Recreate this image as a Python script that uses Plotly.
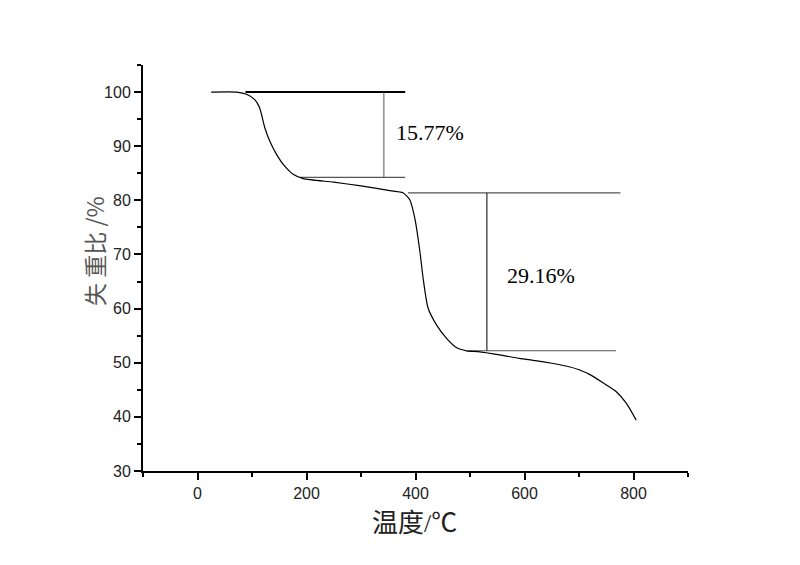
import plotly.graph_objects as go

# TGA curve (temperature °C, remaining weight %)
temperature = [25, 72, 90, 105, 114, 123.5, 132.7, 145, 160, 175.5, 194, 250, 300, 353, 377,
               389.5, 398.7, 408, 414, 423, 438.5, 457, 475, 493.6, 515, 530, 560, 591, 620,
               650, 680, 700, 720, 744, 769, 787, 805]
weight = [100, 100, 99.6, 98.6, 97.1, 93.4, 90.9, 88.5, 86.3, 84.8, 84.0, 83.35, 82.66, 81.8, 81.4,
          80.1, 76.7, 70.6, 65.6, 60.1, 57.0, 54.5, 52.8, 52.2, 52.05, 51.85, 51.35, 50.8, 50.4,
          49.9, 49.3, 48.7, 47.8, 46.3, 44.6, 42.5, 39.4]

# Step 1 reference lines
step1_top_x = [88, 381]
step1_top_y = [100, 100]
step1_bot_x = [188, 381]
step1_bot_y = [84.23, 84.23]
step1_vert_x = [342, 342]
step1_vert_y = [100, 84.23]
step1_label = "15.77%"
step1_label_pos = (426, 92.5)

# Step 2 reference lines
step2_top_x = [386, 776]
step2_top_y = [81.37, 81.37]
step2_bot_x = [496, 768]
step2_bot_y = [52.21, 52.21]
step2_vert_x = [531, 531]
step2_vert_y = [81.37, 52.21]
step2_label = "29.16%"
step2_label_pos = (630, 66.1)

x_tickvals = [0, 200, 400, 600, 800]
y_tickvals = [30, 40, 50, 60, 70, 80, 90, 100]

fig = go.Figure()

def seg(x, y, color, width):
    fig.add_trace(go.Scatter(x=x, y=y, mode="lines", line=dict(color=color, width=width),
                             showlegend=False, hoverinfo="skip"))

seg(step1_top_x, step1_top_y, "#000000", 2)
seg(step1_bot_x, step1_bot_y, "#555555", 1.2)
seg(step1_vert_x, step1_vert_y, "#555555", 1)
seg(step2_top_x, step2_top_y, "#555555", 1.2)
seg(step2_bot_x, step2_bot_y, "#555555", 1.2)
seg(step2_vert_x, step2_vert_y, "#000000", 1)

fig.add_trace(go.Scatter(x=temperature, y=weight, mode="lines",
                         line=dict(color="#000000", width=1.2, shape="spline", smoothing=0.6),
                         showlegend=False))

serif = "Times New Roman, Liberation Serif, Noto Sans CJK SC, serif"
for txt, (px, py) in [(step1_label, step1_label_pos), (step2_label, step2_label_pos)]:
    fig.add_annotation(x=px, y=py, text=txt, showarrow=False,
                       font=dict(family=serif, size=22, color="#000000"))

fig.add_annotation(xref="paper", yref="paper", x=-0.09, y=0.542, text="失 重比 /%",
                   textangle=-90, showarrow=False, xanchor="center", yanchor="middle",
                   font=dict(family="Noto Sans CJK SC, sans-serif", size=23, color="#555555"))
fig.add_annotation(xref="paper", yref="paper", x=0.499, y=-0.1305, text="温度/℃",
                   showarrow=False, xanchor="center", yanchor="middle",
                   font=dict(family=serif, size=26, color="#222222"))

axis_common = dict(showgrid=False, zeroline=False, showline=True, linecolor="#000000",
                   linewidth=2, ticks="outside", ticklen=7, tickwidth=1.5, tickcolor="#000000",
                   tickfont=dict(family="Arial, Liberation Sans, sans-serif", size=16, color="#222222"))

fig.update_xaxes(range=[-100, 900], tickvals=x_tickvals,
                 minor=dict(dtick=100, tick0=-100, ticks="outside", ticklen=4, tickwidth=1.5,
                            tickcolor="#000000"),
                 **axis_common)
fig.update_yaxes(range=[30, 105], tickvals=y_tickvals,
                 minor=dict(dtick=5, tick0=30, ticks="outside", ticklen=4, tickwidth=1.5,
                            tickcolor="#000000"),
                 **axis_common)

fig.update_layout(width=800, height=565, margin=dict(l=135, r=120, t=57, b=102),
                  paper_bgcolor="white", plot_bgcolor="white")

fig.write_html("out.html")
